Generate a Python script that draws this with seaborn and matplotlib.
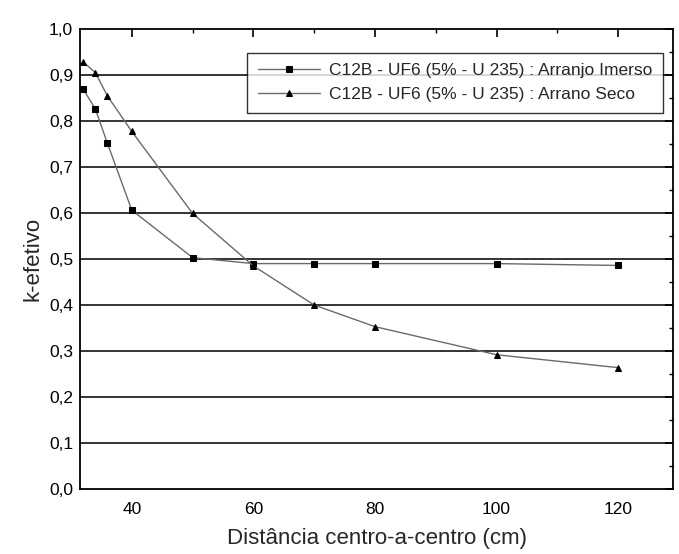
import matplotlib
matplotlib.use("Agg")
import matplotlib.pyplot as plt
import matplotlib.ticker as mticker
import seaborn as sns
import pandas as pd

distancia = [32, 34, 36, 40, 50, 60, 70, 80, 100, 120]
k_imerso = [0.869, 0.826, 0.751, 0.606, 0.503, 0.490, 0.490, 0.490, 0.490, 0.486]
k_seco = [0.928, 0.905, 0.854, 0.777, 0.599, 0.485, 0.400, 0.353, 0.292, 0.264]
labels = ["C12B - UF6 (5% - U 235) : Arranjo Imerso",
          "C12B - UF6 (5% - U 235) : Arrano Seco"]

df = pd.DataFrame({
    "dist": distancia * 2,
    "k": k_imerso + k_seco,
    "serie": [labels[0]] * len(distancia) + [labels[1]] * len(distancia),
})

sns.set_style("white")
plt.rcParams["font.family"] = ["Liberation Sans", "DejaVu Sans"]

fig = plt.figure(figsize=(6.79, 5.54), dpi=100)
ax = fig.add_axes([0.118, 0.117, 0.873, 0.831])

for y in [i / 10 for i in range(1, 10)]:
    ax.axhline(y, color="#333333", lw=1.4, zorder=0)

sns.lineplot(data=df, x="dist", y="k", hue="serie", style="serie",
             markers=["s", "^"], dashes=False,
             palette=["#6a6a6a", "#6a6a6a"], lw=1.0,
             markersize=4.5, markeredgecolor="black", markerfacecolor="black",
             ax=ax, zorder=3)

ax.set_xlim(31.5, 129)
ax.set_ylim(0, 1.0)
ax.xaxis.set_major_locator(mticker.FixedLocator([40, 60, 80, 100, 120]))
ax.xaxis.set_minor_locator(mticker.MultipleLocator(10))
ax.yaxis.set_major_locator(mticker.MultipleLocator(0.1))
ax.yaxis.set_minor_locator(mticker.MultipleLocator(0.05))
ax.yaxis.set_major_formatter(mticker.FuncFormatter(lambda v, p: f"{v:.1f}".replace(".", ",")))
ax.tick_params(which="both", direction="in", top=True, right=True, labelsize=12.5, colors="black")
ax.tick_params(which="major", length=6, width=1.2)
ax.tick_params(which="minor", length=3, width=1.0)
ax.tick_params(axis="x", which="major", pad=9)
ax.tick_params(axis="y", which="major", pad=5)

for s in ax.spines.values():
    s.set_color("black")
    s.set_linewidth(1.3)

ax.set_xlabel("Distância centro-a-centro (cm)", fontsize=16, labelpad=8)
ax.set_ylabel("k-efetivo", fontsize=16, labelpad=4)

leg = ax.legend(loc="upper right", bbox_to_anchor=(0.983, 0.948), borderaxespad=0,
                fontsize=12.5, frameon=True, fancybox=False, edgecolor="black",
                handlelength=3.6, borderpad=0.6, labelspacing=0.5, handletextpad=0.5)
leg.get_frame().set_linewidth(1.0)
for h in leg.legend_handles:
    h.set_markerfacecolor("black")
    h.set_markeredgecolor("black")

fig.savefig("out.png", dpi=100)
